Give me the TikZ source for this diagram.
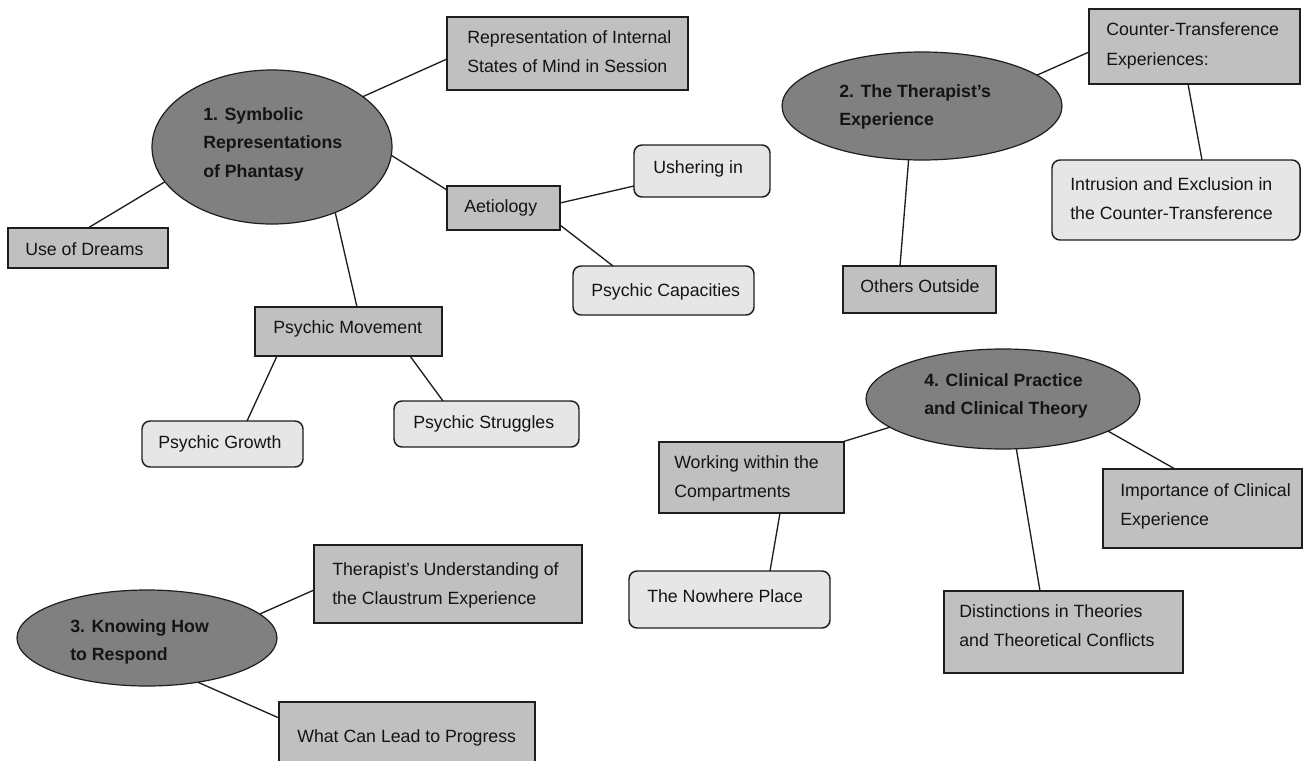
\documentclass[tikz,border=0pt]{standalone}
\usepackage{fontspec}
\setmainfont{Liberation Sans}
\usetikzlibrary{shapes.geometric}
\newcommand{\mlines}[1]{\begin{tabular}[t]{@{}l@{}}#1\end{tabular}}
\definecolor{bubfill}{RGB}{128,128,128}
\definecolor{boxfill}{RGB}{192,192,192}
\definecolor{litefill}{RGB}{230,230,230}
\definecolor{edgecol}{RGB}{30,30,30}
\definecolor{inkcol}{RGB}{20,20,20}
\tikzset{
  sz/.style 2 args={minimum width=#1*0.75pt, minimum height=#2*0.75pt},
  gbox/.style={rectangle, draw=edgecol, line width=1.1pt, fill=boxfill, inner sep=0pt, outer sep=0pt, anchor=north west},
  lbox/.style={gbox, fill=litefill, rounded corners=6pt},
  bub/.style={ellipse, draw=edgecol, line width=0.9pt, fill=bubfill, inner sep=0pt, outer sep=0pt},
  lbl/.style={anchor=base west, inner sep=0pt, text=inkcol, font=\fontsize{13.3}{22}\selectfont},
  blbl/.style={lbl, font=\fontsize{13.3}{21.4}\selectfont\bfseries},
  link/.style={draw=edgecol, line width=1pt},
}
\begin{document}
\begin{tikzpicture}[x=0.75pt,y=-0.75pt]
\useasboundingbox (0,0) rectangle (1309,760);
\clip (0,0) rectangle (1309,760);
\fill[white] (0,0) rectangle (1309,760);

% ---- shapes ----
\node[bub, sz={240}{154}] (e1) at (272,147) {};
\node[gbox, sz={241}{73}] (rep) at (447,17) {};
\node[gbox, sz={160}{40}] (dreams) at (8,228) {};
\node[gbox, sz={113}{44}] (aet) at (447,186) {};
\node[lbox, sz={136}{52}] (ush) at (634,145) {};
\node[lbox, sz={181}{49}] (cap) at (573,266) {};
\node[gbox, sz={187}{49}] (mov) at (255,307) {};
\node[lbox, sz={161}{46}] (grow) at (142,421) {};
\node[lbox, sz={185}{46}] (strug) at (394,401) {};

\node[bub, sz={280}{108}] (e2) at (922,106) {};
\node[gbox, sz={211}{75}] (ct) at (1089,9) {};
\node[lbox, sz={248}{80}] (intr) at (1052,160) {};
\node[gbox, sz={153}{47}] (oth) at (843,266) {};

\node[bub, sz={274}{100}] (e4) at (1003,399) {};
\node[gbox, sz={185}{71}] (work) at (659,442) {};
\node[lbox, sz={201}{57}] (nowh) at (629,571) {};
\node[gbox, sz={199}{79}] (imp) at (1103,469) {};
\node[gbox, sz={239}{82}] (dist) at (944,591) {};

\node[bub, sz={260}{96}] (e3) at (147,638) {};
\node[gbox, sz={268}{78}] (thu) at (314,545) {};
\node[gbox, sz={256}{80}] (prog) at (279,702) {};

% ---- connectors ----
\draw[link] (e1.29) -- (rep.west |- 0,59);
\draw[link] (e1.198) -- (dreams.north -| 88,0);
\draw[link] (e1.356) -- (aet.west |- 0,190);
\draw[link] (e1.314) -- (mov.north -| 357,0);
\draw[link] (aet.east |- 0,203) -- (ush.west |- 0,186);
\draw[link] (aet.east |- 0,225) -- (cap.north -| 613,0);
\draw[link] (mov.south -| 277,0) -- (grow.north -| 247,0);
\draw[link] (mov.south -| 410,0) -- (strug.north -| 443,0);

\draw[link] (e2.15) -- (ct.west |- 0,52);
\draw[link] (ct.south -| 1188,0) -- (intr.north -| 1202,0);
\draw[link] (e2.256) -- (oth.north -| 900,0);

\draw[link] (e4.194) -- (work.north -| 842,0);
\draw[link] (e4.343) -- (imp.north -| 1175,0);
\draw[link] (e4.285) -- (dist.north -| 1040,0);
\draw[link] (work.south -| 780,0) -- (nowh.north -| 770,0);

\draw[link] (e3.12) -- (thu.west |- 0,590);
\draw[link] (e3.319) -- (prog.west |- 0,718);

% ---- texts ----
\node[blbl] (t-e1) at (203,120) {\mlines{1. Symbolic\\Representations\\of Phantasy}};
\node[lbl] (t-rep) at (467,43) {\mlines{Representation of Internal\\States of Mind in Session}};
\node[lbl] (t-dreams) at (25,255) {Use of Dreams};
\node[lbl] (t-aet) at (464,212) {Aetiology};
\node[lbl] (t-ush) at (653,173) {Ushering in};
\node[lbl] (t-cap) at (591,296) {Psychic Capacities};
\node[lbl] (t-mov) at (273,333) {Psychic Movement};
\node[lbl] (t-grow) at (158,448) {Psychic Growth};
\node[lbl] (t-strug) at (413,428) {Psychic Struggles};

\node[blbl] (t-e2) at (839,97) {\mlines{2. The Therapist’s\\Experience}};
\node[lbl] (t-ct) at (1106,36) {\mlines{Counter-Transference\\Experiences:}};
\node[lbl] (t-intr) at (1070,190) {\mlines{Intrusion and Exclusion in\\the Counter-Transference}};
\node[lbl] (t-oth) at (860,292) {Others Outside};

\node[blbl] (t-e4) at (924,386) {\mlines{4. Clinical Practice\\and Clinical Theory}};
\node[lbl] (t-work) at (674,468) {\mlines{Working within the\\Compartments}};
\node[lbl] (t-nowh) at (647,602) {The Nowhere Place};
\node[lbl] (t-imp) at (1120,496) {\mlines{Importance of Clinical\\Experience}};
\node[lbl] (t-dist) at (959,617) {\mlines{Distinctions in Theories\\and Theoretical Conflicts}};

\node[blbl] (t-e3) at (70,632) {\mlines{3. Knowing How\\to Respond}};
\node[lbl] (t-thu) at (332,575) {\mlines{Therapist’s Understanding of\\the Claustrum Experience}};
\node[lbl] (t-prog) at (297,742) {What Can Lead to Progress};
\end{tikzpicture}
\end{document}
